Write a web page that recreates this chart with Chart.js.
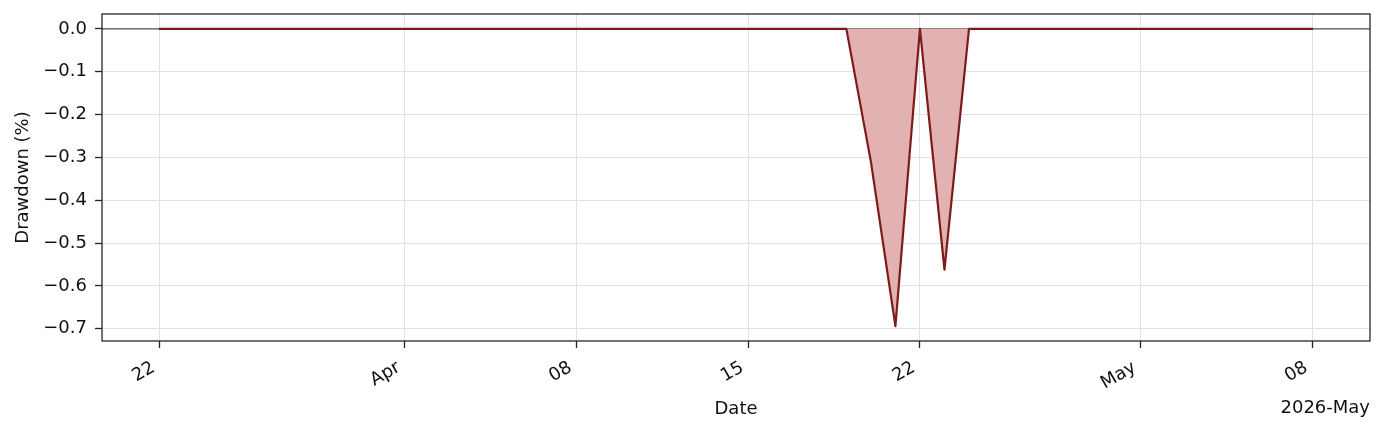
<!DOCTYPE html>
<html>
<head>
<meta charset="utf-8">
<script src="https://cdn.jsdelivr.net/npm/chart.js@4"></script>
<style>
html,body{margin:0;padding:0;background:#fff;}
#wrap{width:1386px;height:433px;}
</style>
</head>
<body>
<div id="wrap"><canvas id="c" width="1386" height="433"></canvas></div>
<script>
// ---- data ----
const dates = [
  "2026-03-22","2026-03-23","2026-03-24","2026-03-25","2026-03-26","2026-03-27","2026-03-28","2026-03-29","2026-03-30","2026-03-31",
  "2026-04-01","2026-04-02","2026-04-03","2026-04-04","2026-04-05","2026-04-06","2026-04-07","2026-04-08","2026-04-09","2026-04-10",
  "2026-04-11","2026-04-12","2026-04-13","2026-04-14","2026-04-15","2026-04-16","2026-04-17","2026-04-18","2026-04-19","2026-04-20",
  "2026-04-21","2026-04-22","2026-04-23","2026-04-24","2026-04-25","2026-04-26","2026-04-27","2026-04-28","2026-04-29","2026-04-30",
  "2026-05-01","2026-05-02","2026-05-03","2026-05-04","2026-05-05","2026-05-06","2026-05-07","2026-05-08"
];
const drawdown = [
  0,0,0,0,0,0,0,0,0,0,
  0,0,0,0,0,0,0,0,0,0,
  0,0,0,0,0,0,0,0,0,-0.31,
  -0.694,0,-0.562,0,0,0,0,0,0,0,
  0,0,0,0,0,0,0,0
];
const tickDates = ["2026-03-22","2026-04-01","2026-04-08","2026-04-15","2026-04-22","2026-05-01","2026-05-08"];
const tickLabels = ["22","Apr","08","15","22","May","08"];
const yTicks = [0,-0.1,-0.2,-0.3,-0.4,-0.5,-0.6,-0.7];
const offsetText = "2026-May";

// ---- helpers ----
const base = Date.UTC(2026,2,22);
function dayOf(s){const p=s.split('-').map(Number);return (Date.UTC(p[0],p[1]-1,p[2])-base)/86400000;}
const xs = dates.map(dayOf);
const points = xs.map((x,i)=>({x:x,y:drawdown[i]}));
const tickXs = tickDates.map(dayOf);
const xSpan = xs[xs.length-1]-xs[0];
const yMinData = Math.min(...drawdown), yMaxData = Math.max(...drawdown);
const ySpan = yMaxData - yMinData;

const FONT = "'DejaVu Sans', sans-serif";
const FS = 18;
const frame = {
  id:'frame',
  beforeDatasetsDraw(chart){
    const ctx=chart.ctx, a=chart.chartArea, y0=chart.scales.y.getPixelForValue(0);
    ctx.save();
    ctx.strokeStyle='#555555'; ctx.lineWidth=1.1;
    ctx.beginPath(); ctx.moveTo(a.left,y0); ctx.lineTo(a.right,y0); ctx.stroke();
    ctx.restore();
  },
  afterDraw(chart){
    const ctx=chart.ctx, a=chart.chartArea;
    ctx.save();
    ctx.strokeStyle='#262626'; ctx.lineWidth=1.3;
    ctx.strokeRect(a.left,a.top,a.right-a.left,a.bottom-a.top);
    ctx.fillStyle='#111'; ctx.font=FS+"px "+FONT; ctx.textAlign='right'; ctx.textBaseline='middle';
    ctx.fillText(offsetText, a.right, 408);
    ctx.restore();
  }
};

new Chart(document.getElementById('c'),{
  type:'line',
  data:{datasets:[{
    data:points,
    borderColor:'#7f1a1a',
    borderWidth:2.2,
    borderJoinStyle:'round',
    borderCapStyle:'round',
    backgroundColor:'#e2b2b2',
    fill:'origin',
    pointRadius:0,
    tension:0
  }]},
  options:{
    responsive:false,
    animation:false,
    events:[],
    layout:{padding:{left:0,right:16,top:14,bottom:0}},
    plugins:{legend:{display:false},tooltip:{enabled:false}},
    scales:{
      x:{
        type:'linear',
        min: xs[0]-0.05*xSpan,
        max: xs[xs.length-1]+0.05*xSpan,
        afterBuildTicks(s){ s.ticks = tickXs.map(v=>({value:v})); },
        afterFit(s){ s.height = 92; s.paddingLeft = 0; s.paddingRight = 0; },
        ticks:{
          callback:(v)=>{const i=tickXs.indexOf(v);return i>=0?tickLabels[i]:'';},
          minRotation:30, maxRotation:30,
          autoSkip:false,
          color:'#111', font:{family:FONT,size:FS}, padding:9, labelOffset:-6
        },
        grid:{color:'#e0e0e0', lineWidth:1, drawTicks:true, tickLength:7, tickColor:'#262626', tickWidth:1.3},
        border:{display:false},
        title:{display:true,text:'Date',color:'#111',font:{family:FONT,size:FS},padding:{top:0,bottom:13}}
      },
      y:{
        type:'linear',
        min: yMinData-0.05*ySpan,
        max: yMaxData+0.05*ySpan,
        afterBuildTicks(s){ s.ticks = yTicks.map(v=>({value:v})); },
        afterFit(s){ s.width = 102; s.paddingTop = 0; s.paddingBottom = 0; },
        ticks:{
          callback:(v)=>{const t=Math.abs(v).toFixed(1);return (v< -1e-9?'\u2212':'')+t;},
          color:'#111', font:{family:FONT,size:FS}, padding:8
        },
        grid:{color:'#e0e0e0', lineWidth:1, drawTicks:true, tickLength:7, tickColor:'#262626', tickWidth:1.3},
        border:{display:false},
        title:{display:true,text:'Drawdown (%)',color:'#111',font:{family:FONT,size:FS},padding:{top:13,bottom:0}}
      }
    }
  },
  plugins:[frame]
});
</script>
</body>
</html>
